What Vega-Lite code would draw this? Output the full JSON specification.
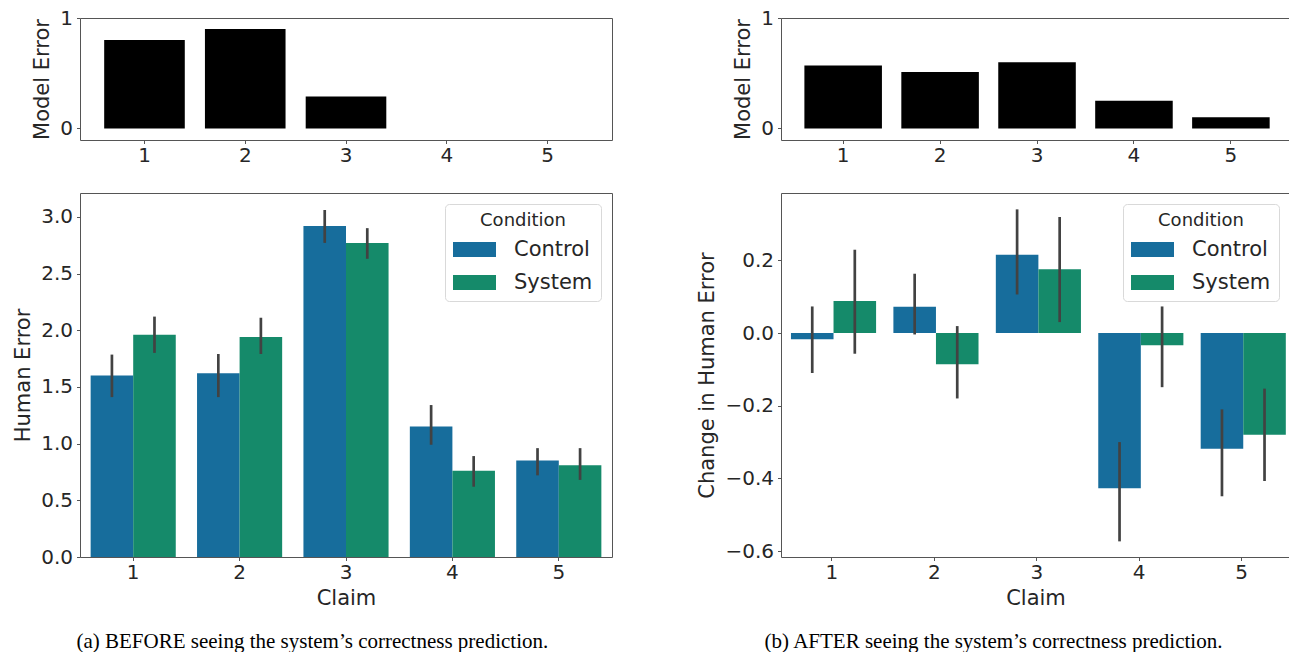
{
  "$schema": "https://vega.github.io/schema/vega-lite/v6.json",
  "padding": {"left": 12, "top": 7, "right": 0, "bottom": 0},
  "background": "white",
  "datasets": {
    "modelBefore": [
      {"claim": 1, "error": 0.8},
      {"claim": 2, "error": 0.9},
      {"claim": 3, "error": 0.29},
      {"claim": 4, "error": 0},
      {"claim": 5, "error": 0}
    ],
    "modelAfter": [
      {"claim": 1, "error": 0.57},
      {"claim": 2, "error": 0.51},
      {"claim": 3, "error": 0.6},
      {"claim": 4, "error": 0.25},
      {"claim": 5, "error": 0.1}
    ],
    "humanBefore": [
      {"claim": 1, "condition": "Control", "mean": 1.6, "lo": 1.41, "hi": 1.785},
      {"claim": 1, "condition": "System", "mean": 1.96, "lo": 1.8, "hi": 2.12},
      {"claim": 2, "condition": "Control", "mean": 1.62, "lo": 1.41, "hi": 1.79},
      {"claim": 2, "condition": "System", "mean": 1.94, "lo": 1.79, "hi": 2.11},
      {"claim": 3, "condition": "Control", "mean": 2.92, "lo": 2.77, "hi": 3.06},
      {"claim": 3, "condition": "System", "mean": 2.77, "lo": 2.63, "hi": 2.9},
      {"claim": 4, "condition": "Control", "mean": 1.15, "lo": 0.99, "hi": 1.34},
      {"claim": 4, "condition": "System", "mean": 0.76, "lo": 0.62, "hi": 0.89},
      {"claim": 5, "condition": "Control", "mean": 0.85, "lo": 0.72, "hi": 0.96},
      {"claim": 5, "condition": "System", "mean": 0.81, "lo": 0.68, "hi": 0.96}
    ],
    "humanAfter": [
      {"claim": 1, "condition": "Control", "mean": -0.017, "lo": -0.11, "hi": 0.073},
      {"claim": 1, "condition": "System", "mean": 0.088, "lo": -0.057, "hi": 0.229},
      {"claim": 2, "condition": "Control", "mean": 0.072, "lo": -0.004, "hi": 0.163},
      {"claim": 2, "condition": "System", "mean": -0.086, "lo": -0.18, "hi": 0.019},
      {"claim": 3, "condition": "Control", "mean": 0.215, "lo": 0.106, "hi": 0.34},
      {"claim": 3, "condition": "System", "mean": 0.175, "lo": 0.03, "hi": 0.319},
      {"claim": 4, "condition": "Control", "mean": -0.427, "lo": -0.573, "hi": -0.3},
      {"claim": 4, "condition": "System", "mean": -0.034, "lo": -0.149, "hi": 0.073},
      {"claim": 5, "condition": "Control", "mean": -0.318, "lo": -0.449, "hi": -0.21},
      {"claim": 5, "condition": "System", "mean": -0.28, "lo": -0.407, "hi": -0.153}
    ]
  },
  "spacing": 83,
  "resolve": {"scale": {"color": "independent"}, "legend": {"color": "independent"}},
  "hconcat": [
    {
      "title": {"text": "(a) BEFORE seeing the system’s correctness prediction.", "orient": "bottom", "anchor": "middle", "font": "Liberation Serif", "fontSize": 21, "fontWeight": "normal", "color": "black", "offset": 22},
      "spacing": 26,
      "resolve": {"scale": {"color": "independent"}, "legend": {"color": "independent"}},
      "vconcat": [
        {
          "width": 532,
          "height": 122,
          "data": {"name": "modelBefore"},
          "mark": {"type": "bar", "color": "black"},
          "encoding": {
            "x": {"field": "claim", "type": "ordinal", "scale": {"paddingInner": 0.2, "paddingOuter": 0.24}, "axis": {"title": null, "labelAngle": 0}},
            "y": {"field": "error", "type": "quantitative", "scale": {"domain": [-0.105, 1], "nice": false, "zero": false}, "axis": {"title": "Model Error", "values": [0, 1], "format": "d"}}
          }
        },
        {
          "width": 532,
          "height": 364,
          "data": {"name": "humanBefore"},
          "encoding": {
            "x": {"field": "claim", "type": "ordinal", "scale": {"paddingInner": 0.2, "paddingOuter": 0.1}, "axis": {"title": "Claim", "labelAngle": 0}},
            "xOffset": {"field": "condition", "type": "nominal"}
          },
          "layer": [
            {
              "mark": {"type": "bar"},
              "encoding": {
                "y": {"field": "mean", "type": "quantitative", "scale": {"domain": [0, 3.21], "nice": false}, "axis": {"title": "Human Error", "values": [0, 0.5, 1, 1.5, 2, 2.5, 3], "format": ".1f"}},
                "color": {"field": "condition", "type": "nominal", "scale": {"domain": ["Control", "System"], "range": ["#176d9c", "#158a6a"]}, "legend": {"title": "Condition"}}
              }
            },
            {
              "mark": {"type": "rule", "color": "#424242", "strokeWidth": 2.7},
              "encoding": {
                "y": {"field": "lo", "type": "quantitative"},
                "y2": {"field": "hi"}
              }
            }
          ]
        }
      ]
    },
    {
      "title": {"text": "(b) AFTER seeing the system’s correctness prediction.", "orient": "bottom", "anchor": "middle", "font": "Liberation Serif", "fontSize": 21, "fontWeight": "normal", "color": "black", "offset": 22},
      "spacing": 26,
      "resolve": {"scale": {"color": "independent"}, "legend": {"color": "independent"}},
      "vconcat": [
        {
          "width": 509,
          "height": 122,
          "data": {"name": "modelAfter"},
          "mark": {"type": "bar", "color": "black"},
          "encoding": {
            "x": {"field": "claim", "type": "ordinal", "scale": {"paddingInner": 0.2, "paddingOuter": 0.2255, "align": 0.535}, "axis": {"title": null, "labelAngle": 0}},
            "y": {"field": "error", "type": "quantitative", "scale": {"domain": [-0.105, 1], "nice": false, "zero": false}, "axis": {"title": "Model Error", "values": [0, 1], "format": "d"}}
          }
        },
        {
          "width": 509,
          "height": 364,
          "data": {"name": "humanAfter"},
          "encoding": {
            "x": {"field": "claim", "type": "ordinal", "scale": {"paddingInner": 0.2, "paddingOuter": 0.0846, "align": 0.575}, "axis": {"title": "Claim", "labelAngle": 0}},
            "xOffset": {"field": "condition", "type": "nominal"}
          },
          "layer": [
            {
              "mark": {"type": "bar"},
              "encoding": {
                "y": {"field": "mean", "type": "quantitative", "scale": {"domain": [-0.616, 0.385], "nice": false}, "axis": {"title": "Change in Human Error", "values": [-0.6, -0.4, -0.2, 0, 0.2], "format": ".1f"}},
                "color": {"field": "condition", "type": "nominal", "scale": {"domain": ["Control", "System"], "range": ["#176d9c", "#158a6a"]}, "legend": {"title": "Condition"}}
              }
            },
            {
              "mark": {"type": "rule", "color": "#424242", "strokeWidth": 2.7},
              "encoding": {
                "y": {"field": "lo", "type": "quantitative"},
                "y2": {"field": "hi"}
              }
            }
          ]
        }
      ]
    }
  ],
  "config": {
    "font": "DejaVu Sans",
    "view": {"stroke": "#555555", "strokeWidth": 1},
    "axis": {
      "labelFont": "DejaVu Sans",
      "titleFont": "DejaVu Sans",
      "labelFontSize": 20,
      "titleFontSize": 21,
      "titleFontWeight": "normal",
      "labelColor": "#262626",
      "titleColor": "#262626",
      "tickColor": "#555555",
      "tickSize": 3.5,
      "tickWidth": 1,
      "domain": false,
      "grid": false,
      "labelPadding": 4,
      "titlePadding": 7
    },
    "axisX": {"titlePadding": 5, "labelPadding": 2},
    "legend": {
      "orient": "top-right",
      "offset": 11,
      "padding": 8,
      "fillColor": "white",
      "strokeColor": "#d9d9d9",
      "cornerRadius": 4,
      "titleFont": "DejaVu Sans",
      "titleFontSize": 18,
      "titleFontWeight": "normal",
      "titleColor": "#262626",
      "titleAnchor": "middle",
      "titlePadding": -2,
      "labelFont": "DejaVu Sans",
      "labelFontSize": 21,
      "labelColor": "#262626",
      "labelOffset": 18,
      "rowPadding": 1,
      "symbolType": "M-1,-0.35H1V0.35H-1Z",
      "symbolSize": 1849,
      "symbolStrokeWidth": 0,
      "symbolOpacity": 1
    }
  }
}
